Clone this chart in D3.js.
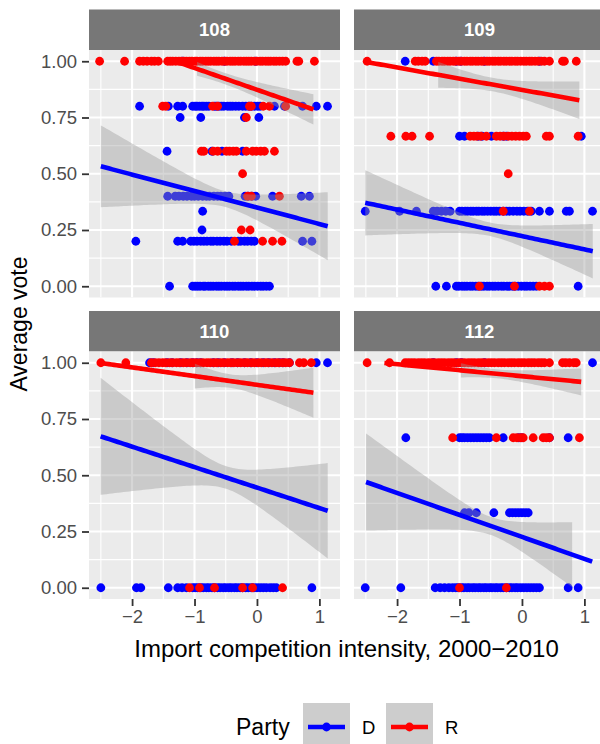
<!DOCTYPE html>
<html>
<head>
<meta charset="utf-8">
<script src="https://cdn.jsdelivr.net/npm/d3@7"></script>
<style>
  body { margin: 0; background: #fff; }
  svg { display: block; }
  text { font-family: "Liberation Sans", Arial, sans-serif; }
</style>
</head>
<body>
<svg id="chart" width="600" height="744"></svg>
<script>
// ---- data -------------------------------------------------------------
const sessions = ["108", "109", "110", "112"];
const parties = ["D", "R"];
const partyColors = ["#0000FF", "#FF0000"];
const xTicks = [-2, -1, 0, 1];
const xTickLabels = ["\u22122", "\u22121", "0", "1"];
const yTicks = [0, 0.25, 0.5, 0.75, 1];
const yTickLabels = ["0.00", "0.25", "0.50", "0.75", "1.00"];

// each row: [average vote, import competition values of the members at that vote]
const votes108D = [
  [1, [-1.19, -0.52, -0.02]],
  [0.8, [-1.88, -1.42, -1.27, -1.19, -1.03, -0.99, -0.96, -0.92, -0.88, -0.85, -0.81, -0.77, -0.68, -0.65, -0.61, -0.57, -0.53, -0.47, -0.43, -0.39, -0.34, -0.29, -0.23, -0.18, -0.13, -0.09, -0.04, 0.01, 0.05, 0.28, 0.44, 0.73, 0.95, 1.13]],
  [0.75, [-1.23, -0.9, -0.2, 0.03]],
  [0.6, [-1.44, -0.72, -0.56, -0.23]],
  [0.4, [-1.43, -1.31, -1.25, -1.18, -1.12, -1.05, -1.0, -0.94, -0.87, -0.81, -0.76, -0.69, -0.63, -0.58, -0.51, -0.45, -0.19, -0.14, -0.08, -0.02, 0.25, 0.71, 0.84]],
  [1 / 3, [-0.87]],
  [0.25, [-0.88]],
  [0.2, [-1.94, -1.27, -1.19, -1.06, -1.01, -0.96, -0.9, -0.85, -0.8, -0.74, -0.7, -0.64, -0.59, -0.53, -0.48, -0.41, -0.3, -0.26, -0.2, -0.15, -0.09, -0.04, 0.73, 0.88]],
  [0, [-1.4, -1.03, -0.99, -0.95, -0.91, -0.86, -0.83, -0.78, -0.74, -0.7, -0.65, -0.61, -0.57, -0.52, -0.48, -0.44, -0.39, -0.35, -0.3, -0.26, -0.22, -0.17, -0.13, -0.08, -0.04, 0.01, 0.06, 0.1, 0.15, 0.2]]
];
const votes108R = [
  [1, [-2.52, -2.12, -1.88, -1.82, -1.76, -1.69, -1.64, -1.58, -1.43, -1.39, -1.35, -1.3, -1.25, -1.21, -1.17, -1.13, -1.08, -1.04, -0.99, -0.96, -0.91, -0.87, -0.82, -0.78, -0.74, -0.69, -0.65, -0.61, -0.56, -0.52, -0.48, -0.43, -0.39, -0.35, -0.3, -0.26, -0.21, -0.17, -0.13, -0.09, -0.04, 0.0, 0.05, 0.09, 0.14, 0.18, 0.22, 0.27, 0.31, 0.36, 0.41, 0.46, 0.64, 0.67, 0.92]],
  [0.8, [-1.51, -1.46, -0.71, -0.63, -0.12, -0.09, 0.1, 0.2, 0.46]],
  [0.75, [-0.17]],
  [0.6, [-0.89, -0.85, -0.7, -0.63, -0.49, -0.44, -0.38, -0.33, -0.17, -0.07, -0.01, 0.06, 0.12, 0.28]],
  [0.5, [-0.23]],
  [0.4, [-0.15, -0.09, 0.36]],
  [0.25, [-0.25, -0.11]],
  [0.2, [-0.36, 0.09, 0.25, 0.4]]
];
const votes109D = [
  [1, [-1.87, -1.42, -1.05, -0.98, -0.6, 0.28]],
  [2 / 3, [-1.0, -0.92, -0.7, -0.64, -0.49, -0.3, -0.25, 0.95]],
  [1 / 3, [-2.51, -1.96, -1.69, -1.42, -1.36, -1.29, -1.22, -1.15, -1.0, -0.96, -0.91, -0.87, -0.82, -0.78, -0.73, -0.69, -0.64, -0.6, -0.55, -0.5, -0.45, -0.41, -0.36, -0.3, -0.25, -0.2, -0.14, -0.08, -0.03, 0.03, 0.09, 0.15, 0.28, 0.44, 0.71, 0.76, 1.13]],
  [0, [-1.38, -1.21, -1.05, -1.01, -0.96, -0.92, -0.88, -0.83, -0.79, -0.74, -0.7, -0.65, -0.61, -0.56, -0.52, -0.47, -0.43, -0.38, -0.33, -0.29, -0.24, -0.2, -0.15, -0.11, -0.06, -0.01, 0.04, 0.08, 0.13, 0.18, 0.23, 0.9]]
];
const votes109R = [
  [1, [-2.48, -1.71, -1.66, -1.6, -1.55, -1.37, -1.33, -1.28, -1.24, -1.19, -1.15, -1.1, -1.06, -1.01, -0.97, -0.92, -0.88, -0.83, -0.79, -0.74, -0.7, -0.65, -0.61, -0.56, -0.52, -0.47, -0.43, -0.38, -0.34, -0.29, -0.25, -0.2, -0.16, -0.11, -0.07, -0.02, 0.03, 0.07, 0.12, 0.16, 0.21, 0.26, 0.31, 0.36, 0.44, 0.65, 0.68, 0.87]],
  [2 / 3, [-2.1, -1.86, -1.76, -1.48, -0.83, -0.77, -0.72, -0.66, -0.57, -0.41, -0.35, -0.29, -0.22, -0.16, -0.1, -0.04, 0.02, 0.07, 0.39, 0.44, 0.9]],
  [0.5, [-0.22]],
  [1 / 3, [-0.3, 0.12]],
  [0, [-0.68, -0.12, 0.28, 0.36, 0.44]]
];
const votes110D = [
  [1, [-1.72, -1.66, -1.44, -1.36, -1.22, -1.12, -1.03, -0.96, -0.9, -0.7, -0.62, -0.52, -0.4, -0.31, -0.2, -0.1, 0.0, 0.1, 0.19, 0.28, 0.36, 0.42, 0.52, 0.95, 1.13]],
  [0, [-2.5, -1.93, -1.86, -1.42, -1.27, -1.2, -1.13, -1.03, -0.99, -0.95, -0.9, -0.86, -0.81, -0.77, -0.72, -0.68, -0.63, -0.59, -0.54, -0.5, -0.45, -0.41, -0.36, -0.32, -0.27, -0.23, -0.18, -0.14, -0.09, -0.05, 0.0, 0.05, 0.1, 0.15, 0.21, 0.26, 0.31, 0.88]]
];
const votes110R = [
  [1, [-2.5, -2.1, -1.69, -1.63, -1.57, -1.51, -1.46, -1.4, -1.35, -1.29, -1.24, -1.18, -1.13, -1.07, -1.02, -0.97, -0.91, -0.86, -0.8, -0.75, -0.69, -0.64, -0.58, -0.53, -0.47, -0.42, -0.37, -0.31, -0.26, -0.2, -0.15, -0.09, -0.04, 0.02, 0.07, 0.13, 0.18, 0.24, 0.3, 0.35, 0.41, 0.46, 0.52, 0.68, 0.75, 0.87]],
  [0, [-1.08, -0.92, -0.68, -0.23, -0.07, 0.41]]
];
const votes112D = [
  [1, [-1.42, -1.05, -0.97, -0.6, 1.13]],
  [2 / 3, [-1.86, -1.0, -0.96, -0.92, -0.87, -0.82, -0.77, -0.72, -0.67, -0.62, -0.57, -0.52, -0.3, -0.05, 0.0, 0.44, 0.74]],
  [1 / 3, [-0.92, -0.85, -0.73, -0.45, -0.2, -0.15, -0.1, -0.05, 0.0, 0.05, 0.1]],
  [0, [-2.51, -1.94, -1.39, -1.31, -1.24, -1.17, -1.11, -1.06, -1.02, -0.97, -0.93, -0.88, -0.84, -0.79, -0.75, -0.7, -0.66, -0.61, -0.57, -0.52, -0.48, -0.43, -0.39, -0.34, -0.3, -0.25, -0.2, -0.16, -0.11, -0.07, -0.02, 0.03, 0.08, 0.13, 0.18, 0.23, 0.28, 0.74, 0.9]]
];
const votes112R = [
  [1, [-2.48, -2.12, -1.87, -1.82, -1.77, -1.72, -1.66, -1.61, -1.56, -1.5, -1.45, -1.4, -1.34, -1.29, -1.24, -1.18, -1.13, -1.08, -1.02, -0.97, -0.92, -0.86, -0.81, -0.76, -0.7, -0.65, -0.6, -0.54, -0.49, -0.44, -0.38, -0.33, -0.28, -0.22, -0.17, -0.12, -0.06, -0.01, 0.04, 0.1, 0.15, 0.2, 0.26, 0.31, 0.36, 0.44, 0.65, 0.7, 0.76, 0.83, 0.87]],
  [2 / 3, [-1.11, -0.41, -0.14, -0.08, -0.02, 0.02, 0.18, 0.34, 0.39, 0.44, 0.92]],
  [0, [-1.0, -0.25]]
];

// linear fits: [x start, x end, fitted at start, fitted at end,
//               95% band half-width at start, at end, narrowest]
const fit108D = [-2.5, 1.133, 0.533, 0.267, 0.182, 0.151, 0.035];
const fit108R = [-2.52, 0.904, 1.117, 0.786, 0.089, 0.0675, 0.025];
const fit109D = [-2.51, 1.134, 0.371, 0.156, 0.145, 0.121, 0.03];
const fit109R = [-2.515, 0.919, 0.998, 0.827, 0.119, 0.0835, 0.03];
const fit110D = [-2.504, 1.133, 0.673, 0.342, 0.26, 0.212, 0.05];
const fit110R = [-2.504, 0.904, 0.999, 0.867, 0.171, 0.111, 0.03];
const fit112D = [-2.497, 1.125, 0.47, 0.116, 0.216, 0.177, 0.04];
const fit112R = [-2.51, 0.949, 1.007, 0.915, 0.091, 0.06, 0.02];

const votesBySession = {
  "108": [votes108D, votes108R], "109": [votes109D, votes109R],
  "110": [votes110D, votes110R], "112": [votes112D, votes112R]
};
const fitsBySession = {
  "108": [fit108D, fit108R], "109": [fit109D, fit109R],
  "110": [fit110D, fit110R], "112": [fit112D, fit112R]
};

// ---- layout -----------------------------------------------------------
const svg = d3.select("#chart");
const colLeft = [89, 354];
const panelW = 251;
const stripTop = [9.5, 311];
const stripH = 40.5;
const panelH = 247.5;
const xDomain = [-2.69, 1.33];
const yDomain = [-0.05, 1.05];
const tickFont = 18.5, titleFont = 23;

// Evaluate a fitted line and its confidence band on an evenly spaced grid;
// values outside the [0, 1] vote scale are dropped, as with scale limits.
function bandPoints(f) {
  const [x0, x1, y0, y1, h0, h1, hm] = f;
  const slope = (y1 - y0) / (x1 - x0);
  const A = Math.sqrt(Math.max(h0 * h0 - hm * hm, 0));
  const B = Math.sqrt(Math.max(h1 * h1 - hm * hm, 0));
  const xbar = (A * x1 + B * x0) / (A + B);
  const c = (A + B) / (x1 - x0);
  return d3.range(80).map(i => {
    const x = x0 + i * (x1 - x0) / 79;
    const y = y0 + slope * (x - x0);
    const hw = Math.sqrt(hm * hm + c * c * (x - xbar) * (x - xbar));
    return { x, y, lo: y - hw, hi: y + hw };
  });
}

sessions.forEach((s, i) => {
  const col = i % 2, row = Math.floor(i / 2);
  const left = colLeft[col];
  const top = stripTop[row] + stripH;
  const x = d3.scaleLinear().domain(xDomain).range([left, left + panelW]);
  const y = d3.scaleLinear().domain(yDomain).range([top + panelH, top]);

  // strip
  svg.append("rect").attr("x", left).attr("y", stripTop[row])
    .attr("width", panelW).attr("height", stripH).attr("fill", "#777777");
  svg.append("text").attr("x", left + panelW / 2).attr("y", stripTop[row] + stripH / 2)
    .attr("dy", "0.36em").attr("text-anchor", "middle").attr("fill", "#fff")
    .attr("font-size", tickFont).attr("font-weight", "bold").text(s);

  // panel background + grid
  svg.append("rect").attr("x", left).attr("y", top)
    .attr("width", panelW).attr("height", panelH).attr("fill", "#EBEBEB");
  const clipId = "clip" + s;
  svg.append("clipPath").attr("id", clipId).append("rect")
    .attr("x", left).attr("y", top).attr("width", panelW).attr("height", panelH);
  const g = svg.append("g").attr("clip-path", `url(#${clipId})`);

  const yMinor = [0.125, 0.375, 0.625, 0.875];
  const xMinor = [-2.5, -1.5, -0.5, 0.5];
  g.selectAll(null).data(yMinor).enter().append("line")
    .attr("x1", left).attr("x2", left + panelW).attr("y1", d => y(d)).attr("y2", d => y(d))
    .attr("stroke", "#fff").attr("stroke-width", 1.1);
  g.selectAll(null).data(xMinor).enter().append("line")
    .attr("y1", top).attr("y2", top + panelH).attr("x1", d => x(d)).attr("x2", d => x(d))
    .attr("stroke", "#fff").attr("stroke-width", 1.1);
  g.selectAll(null).data(yTicks).enter().append("line")
    .attr("x1", left).attr("x2", left + panelW).attr("y1", d => y(d)).attr("y2", d => y(d))
    .attr("stroke", "#fff").attr("stroke-width", 2.1);
  g.selectAll(null).data(xTicks).enter().append("line")
    .attr("y1", top).attr("y2", top + panelH).attr("x1", d => x(d)).attr("x2", d => x(d))
    .attr("stroke", "#fff").attr("stroke-width", 2.1);

  // points
  votesBySession[s].forEach((rows, p) => {
    const pts = rows.flatMap(([v, xs]) => xs.map(xv => [xv, v]));
    g.selectAll(null).data(pts).enter().append("circle")
      .attr("cx", d => x(d[0])).attr("cy", d => y(d[1])).attr("r", 4.4)
      .attr("fill", partyColors[p]);
  });

  // fitted lines with confidence bands
  fitsBySession[s].forEach((f, p) => {
    const pts = bandPoints(f);
    const bandPts = pts.filter(d => d.lo >= 0 && d.hi <= 1);
    const linePts = pts.filter(d => d.y >= 0 && d.y <= 1);
    g.append("path").datum(bandPts)
      .attr("d", d3.area().x(d => x(d.x)).y0(d => y(d.lo)).y1(d => y(d.hi)))
      .attr("fill", "#999999").attr("fill-opacity", 0.4);
    g.append("path").datum(linePts)
      .attr("d", d3.line().x(d => x(d.x)).y(d => y(d.y)))
      .attr("fill", "none").attr("stroke", partyColors[p]).attr("stroke-width", 4.6);
  });

  // axes
  if (col === 0) {
    const ya = svg.append("g").attr("transform", `translate(${left},0)`)
      .call(d3.axisLeft(y).tickValues(yTicks).tickFormat((d, k) => yTickLabels[k])
        .tickSize(7).tickPadding(5));
    ya.select(".domain").remove();
    ya.selectAll(".tick line").attr("stroke", "#333333").attr("stroke-width", 1.8);
    ya.selectAll(".tick text").attr("fill", "#4D4D4D").attr("font-size", tickFont)
      .attr("font-family", "Liberation Sans, Arial, sans-serif");
  }
  if (row === 1) {
    const xa = svg.append("g").attr("transform", `translate(0,${top + panelH})`)
      .call(d3.axisBottom(x).tickValues(xTicks).tickFormat((d, k) => xTickLabels[k])
        .tickSize(7).tickPadding(4));
    xa.select(".domain").remove();
    xa.selectAll(".tick line").attr("stroke", "#333333").attr("stroke-width", 1.8);
    xa.selectAll(".tick text").attr("fill", "#4D4D4D").attr("font-size", tickFont)
      .attr("font-family", "Liberation Sans, Arial, sans-serif");
  }
});

// axis titles
svg.append("text").attr("x", 346.5).attr("y", 648).attr("dy", "0.36em")
  .attr("text-anchor", "middle").attr("font-size", 24)
  .text("Import competition intensity, 2000\u22122010");
svg.append("text").attr("transform", "translate(19,324) rotate(-90)")
  .attr("dy", "0.36em").attr("text-anchor", "middle").attr("font-size", titleFont)
  .text("Average vote");

// legend
const legendY = 727;
svg.append("text").attr("x", 236).attr("y", legendY).attr("dy", "0.36em")
  .attr("font-size", titleFont).text("Party");
const keyX = [303, 386];
parties.forEach((p, k) => {
  const kx = keyX[k];
  svg.append("rect").attr("x", kx).attr("y", legendY - 24).attr("width", 47).attr("height", 48)
    .attr("fill", "#CDCDCD");
  svg.append("line").attr("x1", kx + 5).attr("x2", kx + 42)
    .attr("y1", legendY).attr("y2", legendY)
    .attr("stroke", partyColors[k]).attr("stroke-width", 4.6);
  svg.append("circle").attr("cx", kx + 23.5).attr("cy", legendY).attr("r", 4.4)
    .attr("fill", partyColors[k]);
  svg.append("text").attr("x", kx + 59).attr("y", legendY).attr("dy", "0.36em")
    .attr("font-size", tickFont).text(p);
});
</script>
</body>
</html>
